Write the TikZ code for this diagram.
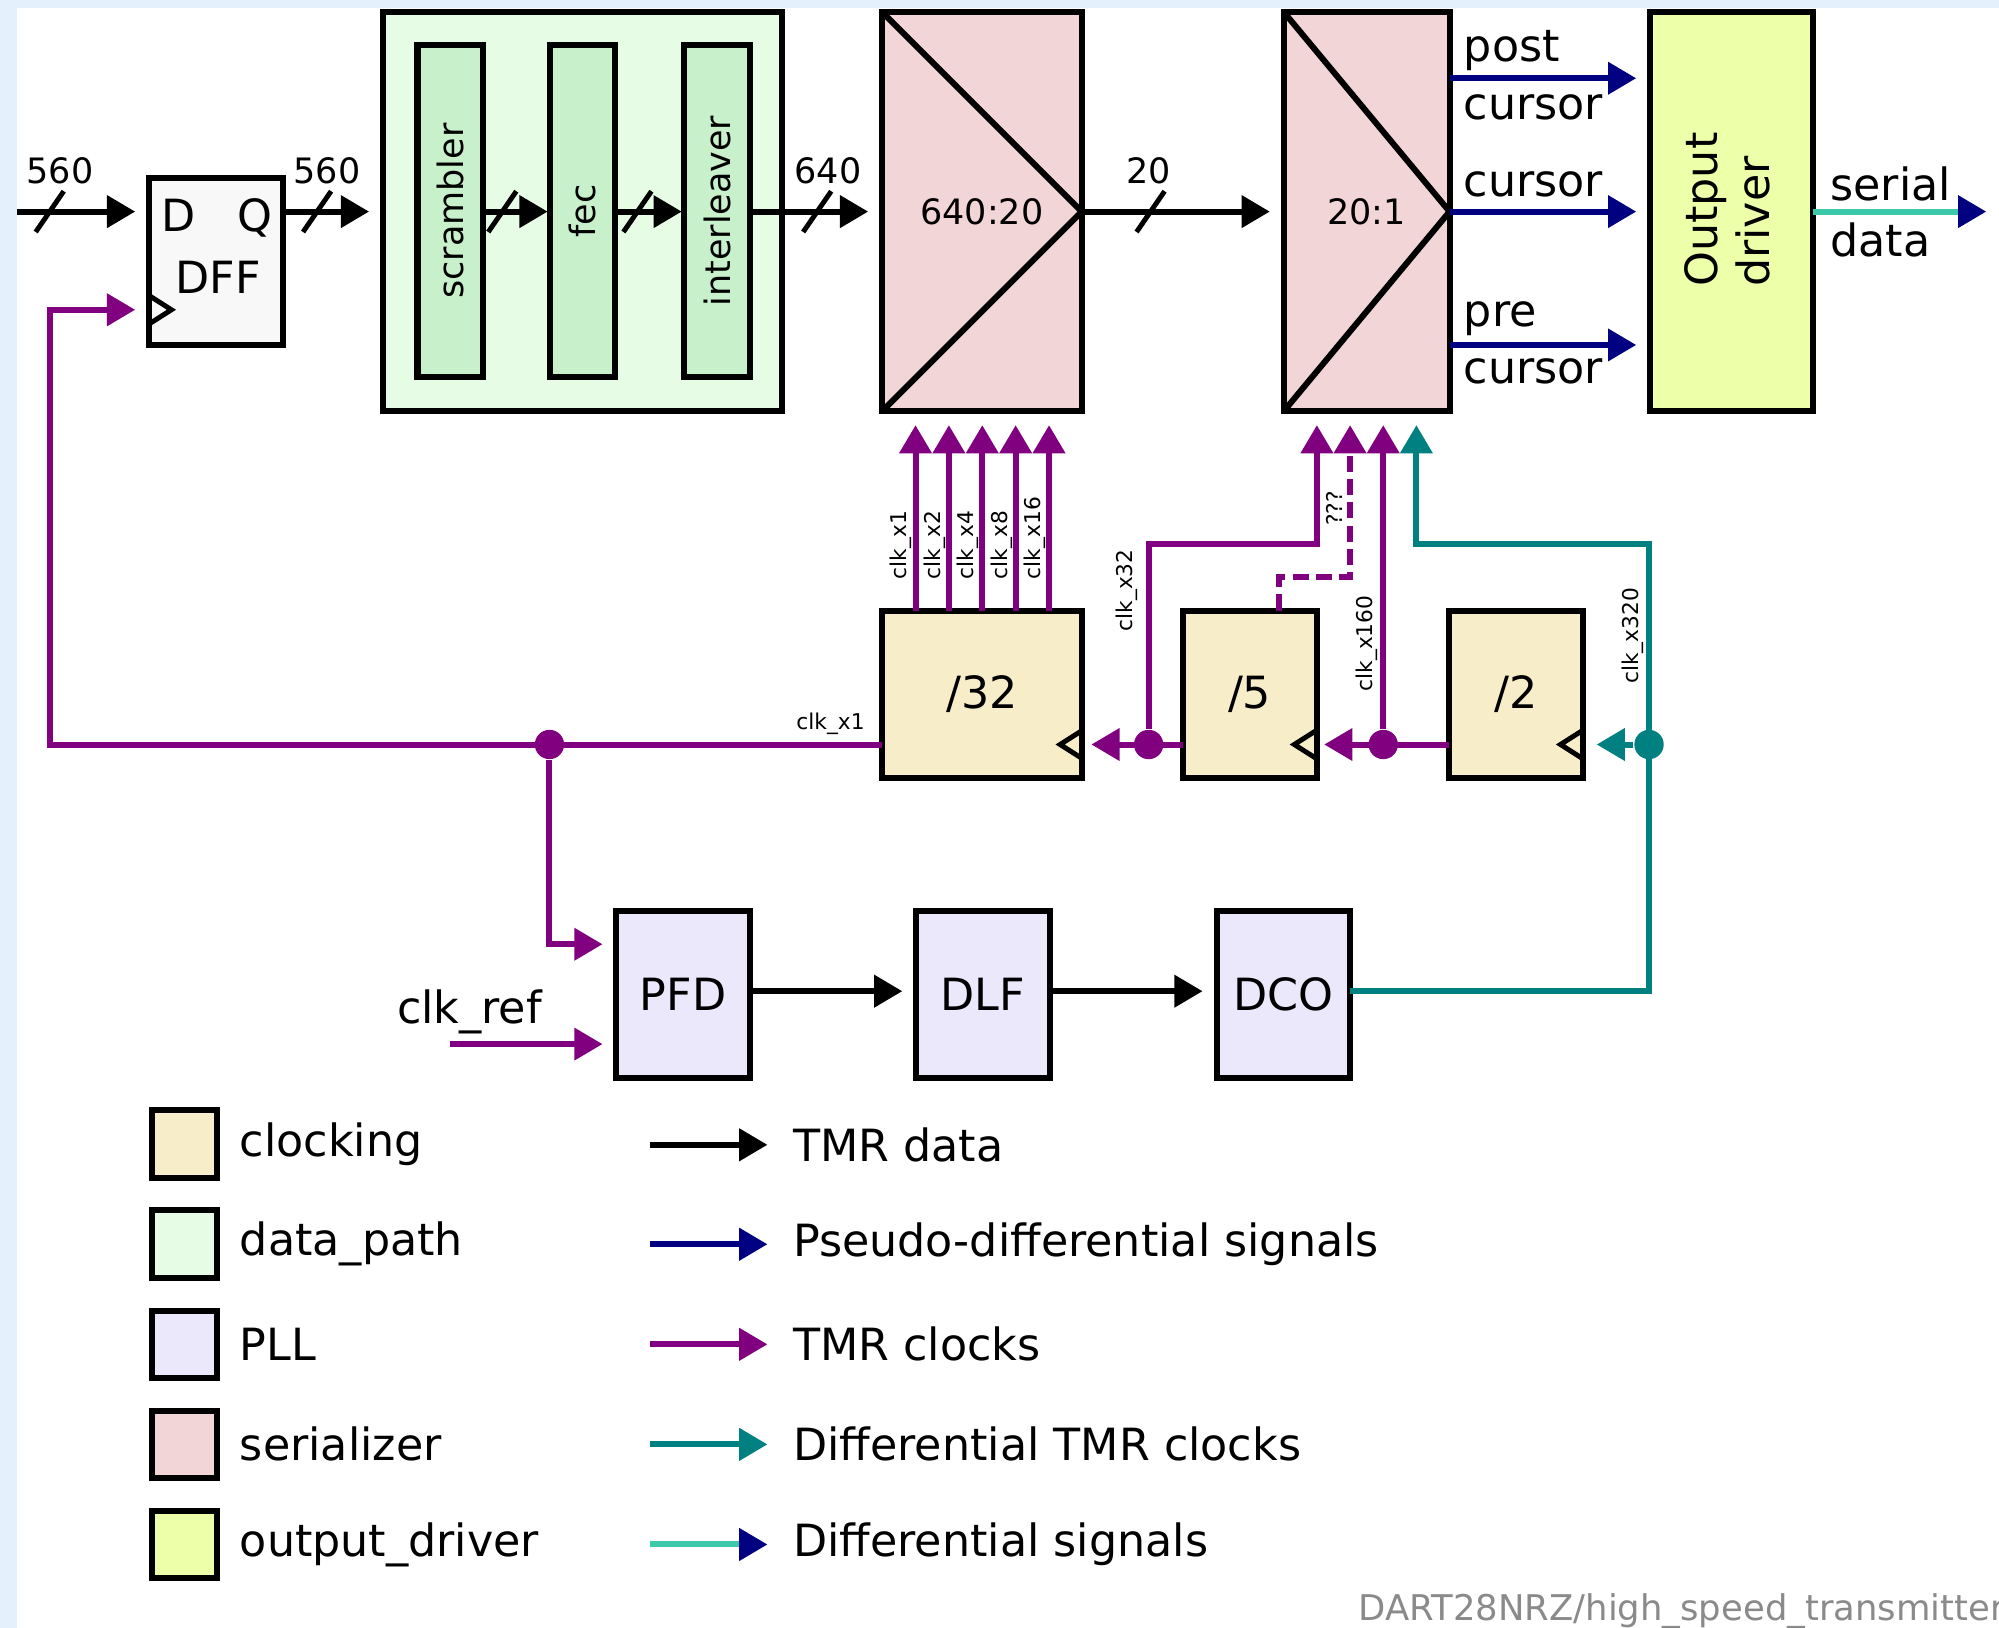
\documentclass[tikz,border=0pt]{standalone}
\usepackage{fontspec}
\setmainfont{DejaVu Sans}
\usepackage{graphicx}
\usepackage{tikz}
\usetikzlibrary{
    positioning,
    calc,
    arrows.meta
}

\definecolor{tmrpurple}{HTML}{800080}
\definecolor{pseudonavy}{HTML}{000080}
\definecolor{diffteal}{HTML}{008080}
\definecolor{serialcyan}{HTML}{3CC8AA}
\definecolor{clkfill}{HTML}{F7EEC9}
\definecolor{datafill}{HTML}{E6FCE4}
\definecolor{stagefill}{HTML}{C8F0CB}
\definecolor{pllfill}{HTML}{EBE8FB}
\definecolor{serfill}{HTML}{F2D5D6}
\definecolor{drvfill}{HTML}{EEFFA9}
\definecolor{dfffill}{HTML}{F8F8F8}
\definecolor{pagebg}{HTML}{E4F1FC}
\definecolor{wmgray}{HTML}{8A8A8A}

\newcommand{\fntbig}{\fontsize{9.9}{11.5}\selectfont}
\newcommand{\fntmid}{\fontsize{7.8}{9.4}\selectfont}
\newcommand{\fnttiny}{\fontsize{4.85}{5.8}\selectfont}

\tikzset{
    >={Triangle[length=6.3pt,width=7pt]},
    block/.style={
        draw,
        line width=1.34pt,
        inner sep=0pt,
        outer sep=0pt,
        font=\fntbig
    },
    clkbox/.style={block, fill=clkfill, minimum width=1.05cm, minimum height=1.31cm},
    pllbox/.style={block, fill=pllfill, minimum width=1.045cm, minimum height=1.31cm},
    serbox/.style={block, fill=serfill, minimum height=3.13cm, font=\fntmid},
    stagebox/.style={block, fill=stagefill, minimum width=0.51cm, minimum height=2.60cm, font=\fntmid},
    legbox/.style={block, minimum width=0.51cm, minimum height=0.53cm},
    tmrdata/.style={->, line width=1.34pt, shorten >=3.1pt},
    tmrclk/.style={tmrdata, tmrpurple},
    pseudo/.style={tmrdata, pseudonavy},
    diffclk/.style={tmrdata, diffteal},
    junction/.style={circle, fill=tmrpurple, inner sep=0pt, minimum size=0.23cm},
    buslbl/.style={font=\fntmid, inner sep=0pt, anchor=base},
    siglbl/.style={font=\fntbig, inner sep=0pt, anchor=base west},
    clklbl/.style={font=\fnttiny, inner sep=0pt, rotate=90, anchor=south west},
    busmark/.pic={\draw[line width=1.1pt] (-11,16) -- (11,-16);},
    clkpin/.pic={\draw[line width=1.1pt, line join=miter] (1,-10.5) -- (17.5,0) -- (1,10.5);}
}

\begin{document}
\begin{tikzpicture}[
    x=0.01cm,
    y=-0.01cm
]

    % Fondo
    \useasboundingbox (0,0) rectangle (1568,1277);
    \clip (0,0) rectangle (1568,1277);
    \fill[pagebg] (0,0) rectangle (1568,1277);
    \fill[white] (13.3,6.3) rectangle (1568,1277);

    % Ruta de datos
    \node[block, fill=dfffill, minimum width=1.05cm, minimum height=1.31cm] (dff) at (169.5,205) {};
    \node[font=\fntbig, anchor=base] (dffd)    at (140,181.7) {D};
    \node[font=\fntbig, anchor=base] (dffq)    at (200,181.7) {Q};
    \node[font=\fntbig, anchor=base] (dffname) at (171,230)   {DFF};

    \node[block, fill=datafill, minimum width=3.13cm, minimum height=3.13cm] (dpath) at (457,166) {};
    \node[stagebox] (scr) at (353,165.6)   {\rotatebox{90}{scrambler}};
    \node[stagebox] (fec) at (457.2,165.6) {\rotatebox{90}{fec}};
    \node[stagebox] (ilv) at (562.4,165.6) {\rotatebox{90}{interleaver}};

    % Serializadores y driver
    \node[serbox, minimum width=1.565cm] (ser1) at (770.2,166) {640:20};
    \node[serbox, minimum width=1.30cm]  (ser2) at (1072,166)  {20:1};
    \node[block, fill=drvfill, minimum width=1.276cm, minimum height=3.13cm] (drv) at (1358.2,166) {};
    \node[font=\fntbig, rotate=90, align=left, inner sep=0pt] (drvtxt) at (1355,164.5) {Output\\driver};

    \foreach \s in {ser1, ser2}
        \draw[line width=1.34pt] (\s.north west) -- (\s.east) -- (\s.south west);

    % Divisores de reloj
    \node[clkbox, minimum width=1.57cm] (div32) at (770.5,544.5)  {/32};
    \node[clkbox]                       (div5)  at (980.2,544.5)  {/5};
    \node[clkbox]                       (div2)  at (1189,544.5)   {/2};

    % PLL
    \node[pllbox] (pfd) at (535.8,780.2)  {PFD};
    \node[pllbox] (dlf) at (771,780.2)    {DLF};
    \node[pllbox] (dco) at (1006.5,780.2) {DCO};

    % Coordenadas auxiliares
    \coordinate (din)      at (13,166);
    \coordinate (sout)     at (1558,166);
    \coordinate (rpost)    at (0,61.4);
    \coordinate (rpre)     at (0,270.6);
    \coordinate (ckrow)    at (0,584);
    \coordinate (rowa)     at (0,427);
    \coordinate (rowb)     at (0,453);
    \coordinate (clkbase)  at (0,455);
    \coordinate (dffclk)   at (39.5,243);
    \coordinate (cref)     at (352.7,819);
    \coordinate (pllrow)   at (0,777.5);
    \coordinate (s2a) at ($(ser2.south west)!0.2!(ser2.south east)$);
    \coordinate (s2b) at ($(ser2.south west)!0.4!(ser2.south east)$);
    \coordinate (s2c) at ($(ser2.south west)!0.6!(ser2.south east)$);
    \coordinate (s2d) at ($(ser2.south west)!0.8!(ser2.south east)$);
    \coordinate (d5up) at ($(div5.north west)!0.72!(div5.north east)$);

    % Conexiones de datos
    \path[tmrdata]
        (din)             edge (dff.west |- din)
        (dff.east |- din) edge (dpath.west |- din)
        (scr.east |- din) edge[shorten >=0.6pt] (fec.west |- din)
        (fec.east |- din) edge[shorten >=0.6pt] (ilv.west |- din)
        (ilv.east |- din) edge (ser1.west |- din)
        (ser1.east)       edge (ser2.west);

    \pic at (39,166)    {busmark};
    \pic at (248.7,166) {busmark};
    \pic at (394,166)   {busmark};
    \pic at (500,166)   {busmark};
    \pic at (641,166)   {busmark};
    \pic at (902.5,166) {busmark};

    \node[buslbl] (w560a) at (47,143.7)    {560};
    \node[buslbl] (w560b) at (256.5,143.7) {560};
    \node[buslbl] (w640)  at (649.5,143.7) {640};
    \node[buslbl] (w20)   at (901,143.7)   {20};

    % Cursores y salida serie
    \path[pseudo]
        (ser2.east |- rpost) edge (drv.west |- rpost)
        (ser2.east)          edge (drv.west)
        (ser2.east |- rpre)  edge (drv.west |- rpre);
    \draw[tmrdata, serialcyan, shorten >=0pt, -{Triangle[length=6.3pt,width=7pt,color=pseudonavy]}]
        (drv.east) -- (sout);

    \node[siglbl] (lpost)  at (1147.5,48)    {post};
    \node[siglbl] (lcur1)  at (1147.5,94)    {cursor};
    \node[siglbl] (lcur2)  at (1147.5,154.5) {cursor};
    \node[siglbl] (lpre)   at (1147.5,256)   {pre};
    \node[siglbl] (lcur3)  at (1147.5,300.5) {cursor};
    \node[siglbl] (lser)   at (1435,157)     {serial};
    \node[siglbl] (ldata)  at (1435,201.5)   {data};

    % Relojes
    \node[junction]                 (jx1)   at (431,584)    {};
    \node[junction]                 (jx32)  at (901,584)    {};
    \node[junction]                 (jx160) at (s2c |- ckrow) {};
    \node[junction, fill=diffteal]  (jx320) at (1293.5,584) {};

    \draw[tmrclk] (div32.west |- ckrow) -| (dffclk) -- (dff.west |- dffclk);
    \draw[tmrclk] (jx1) |- ([yshift=0.395cm]pfd.west);
    \draw[tmrclk] (cref) -- (pfd.west |- cref);
    \draw[tmrclk, shorten >=2pt]   (div5.west |- ckrow) -- (div32.east |- ckrow);
    \draw[tmrclk, shorten >=1.7pt] (div2.west |- ckrow) -- (div5.east |- ckrow);
    \draw[tmrclk] (jx32) |- (s2a |- rowa) -- (s2a);
    \draw[tmrclk, dash pattern=on 3.6pt off 1.6pt] (d5up) |- (s2b |- rowb) -- (s2b);
    \draw[tmrclk] (jx160) -- (s2c);
    \draw[diffclk] (dco.east |- pllrow) -| (jx320 |- rowa) -| (s2d);
    \draw[diffclk] (jx320) -- (div2.east |- ckrow);

    \foreach \i/\m in {1/1, 2/2, 3/4, 4/8, 5/16} {
        \coordinate (o\i) at ($(div32.north west)!\i/6!(div32.north east)$);
        \draw[tmrclk] (o\i) -- (o\i |- ser1.south);
        \node[clklbl] (lx\i) at ($(o\i |- clkbase)+(-2,0)$) {clk\_x\m};
    }

    \pic at (dff.west |- dffclk) {clkpin};
    \pic[xscale=-1] at (div32.east |- ckrow) {clkpin};
    \pic[xscale=-1] at (div5.east |- ckrow)  {clkpin};
    \pic[xscale=-1] at (div2.east |- ckrow)  {clkpin};

    \node[clklbl] (lx32)  at (893,496)  {clk\_x32};
    \node[clklbl] (lqq)   at (1054,413) {???};
    \node[clklbl] (lx160) at (1081,543) {clk\_x160};
    \node[clklbl] (lx320) at (1290,537) {clk\_x320};
    \node[font=\fnttiny, inner sep=0pt, anchor=base west] (lx1) at (624,572) {clk\_x1};
    \node[siglbl] (lref) at (310.7,802.5) {clk\_ref};

    % Lazo PLL
    \path[tmrdata]
        (pfd.east |- pllrow) edge (dlf.west |- pllrow)
        (dlf.east |- pllrow) edge (dco.west |- pllrow);

    % Leyenda
    \foreach \y/\fc/\lname [count=\k] in {897.5/clkfill/clocking, 976/datafill/data\_path,
            1054.5/pllfill/PLL, 1133/serfill/serializer, 1211.5/drvfill/output\_driver} {
        \node[legbox, fill=\fc] (lsq\k) at (144.5,\y) {};
        \node[font=\fntbig, inner sep=0pt, anchor=west] (ltx\k) at (187.5,\y) {\lname};
    }

    \foreach \y/\lc/\hc/\lname [count=\k] in {898/black/black/TMR data,
            976/pseudonavy/pseudonavy/Pseudo-differential signals,
            1054.5/tmrpurple/tmrpurple/TMR clocks,
            1133/diffteal/diffteal/Differential TMR clocks,
            1211.5/serialcyan/pseudonavy/Differential signals} {
        \coordinate (la\k) at (510,\y);
        \coordinate (lb\k) at (602,\y);
        \draw[line width=1.34pt, \lc, -{Triangle[length=6.3pt,width=7pt,color=\hc]}] (la\k) -- (lb\k);
        \node[font=\fntbig, inner sep=0pt, anchor=west] (lar\k) at (621.5,\y) {\lname};
    }

    % Marca
    \node[font=\fontsize{7.9}{9.5}\selectfont, text=wmgray, inner sep=0pt, anchor=base west] (wmark) at (1065,1271)
        {DART28NRZ/high\_speed\_transmitter};

\end{tikzpicture}
\end{document}
